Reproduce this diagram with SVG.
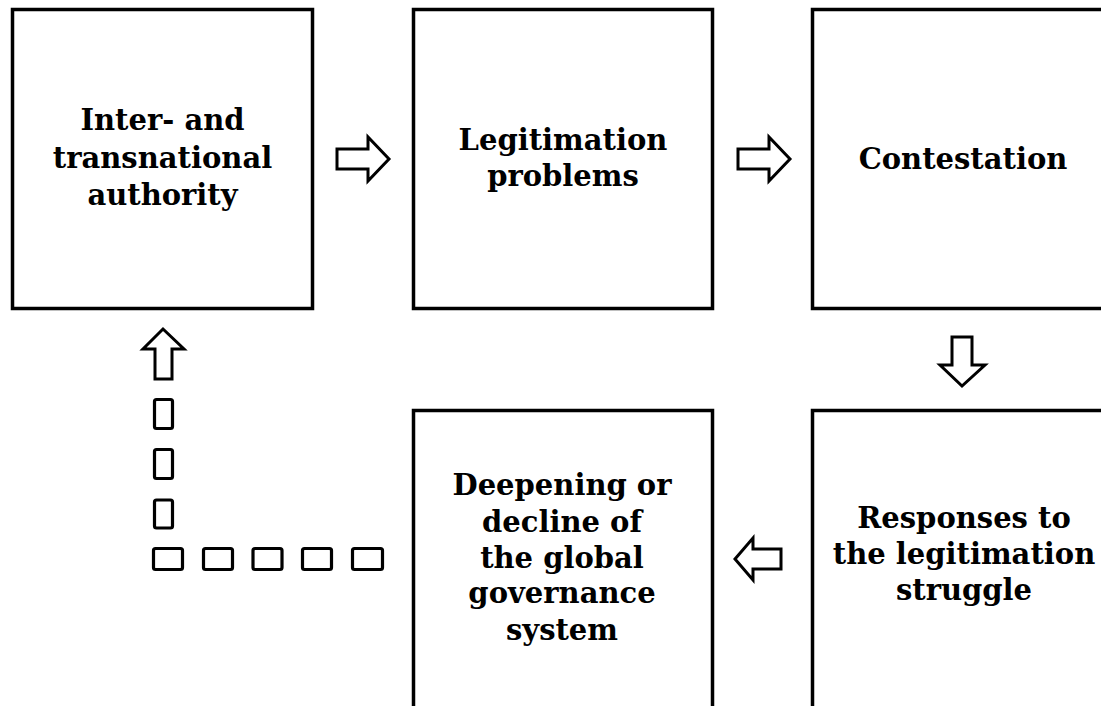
<svg xmlns="http://www.w3.org/2000/svg" width="1101" height="706" viewBox="0 0 1101 706">
<style>
.box{fill:#fff;stroke:#000;stroke-width:3.5}
.lbl{font-family:"DejaVu Serif","Liberation Serif",serif;font-weight:bold;font-size:29px;fill:#000;text-anchor:middle}
.arr{fill:#fff;stroke:#000;stroke-width:3;stroke-linejoin:miter}
.dash{fill:#fff;stroke:#000;stroke-width:3.2}
</style>
<rect width="1101" height="706" fill="#fff"/>
<g id="node-authority">
<rect class="box" x="12.5" y="9.5" width="300" height="299"/>
<text class="lbl" x="162.5" y="130">Inter- and</text>
<text class="lbl" x="162.5" y="168">transnational</text>
<text class="lbl" x="162.5" y="205">authority</text>
</g>
<g id="node-legitimation">
<rect class="box" x="413.5" y="9.5" width="299" height="299"/>
<text class="lbl" x="563" y="150">Legitimation</text>
<text class="lbl" x="563" y="186">problems</text>
</g>
<g id="node-contestation">
<rect class="box" x="812.5" y="9.5" width="300" height="299"/>
<text class="lbl" x="963" y="169">Contestation</text>
</g>
<g id="node-deepening">
<rect class="box" x="413.5" y="410.5" width="299" height="310"/>
<text class="lbl" x="562" y="495">Deepening or</text>
<text class="lbl" x="562" y="532">decline of</text>
<text class="lbl" x="562" y="568">the global</text>
<text class="lbl" x="562" y="603">governance</text>
<text class="lbl" x="562" y="640">system</text>
</g>
<g id="node-responses">
<rect class="box" x="812.5" y="410.5" width="300" height="310"/>
<text class="lbl" x="964" y="528">Responses to</text>
<text class="lbl" x="964" y="564">the legitimation</text>
<text class="lbl" x="964" y="600">struggle</text>
</g>
<g id="connectors">
<polygon class="arr" points="337,149 368,149 368,137 389,159 368,181 368,169 337,169"/>
<polygon class="arr" points="738,149 769,149 769,137 790,159 769,181 769,169 738,169"/>
<polygon class="arr" points="952,337 972,337 972,365 985,365 962,386 940,365 952,365"/>
<polygon class="arr" points="781,549 753,549 753,538 735,559 753,580 753,569 781,569"/>
<polygon class="arr" points="155,379 155,349 143,349 163,329 184,349 172,349 172,379"/>
<rect class="dash" x="154.5" y="399.5" width="18" height="29" rx="2"/>
<rect class="dash" x="154.5" y="449.5" width="18" height="29" rx="2"/>
<rect class="dash" x="154.5" y="500" width="18" height="28" rx="2"/>
<rect class="dash" x="153.5" y="548.5" width="29" height="21" rx="2"/>
<rect class="dash" x="203.5" y="548.5" width="29" height="21" rx="2"/>
<rect class="dash" x="253" y="548.5" width="29" height="21" rx="2"/>
<rect class="dash" x="302.5" y="548.5" width="29" height="21" rx="2"/>
<rect class="dash" x="352.5" y="548.5" width="30" height="21" rx="2"/>
</g>
</svg>
